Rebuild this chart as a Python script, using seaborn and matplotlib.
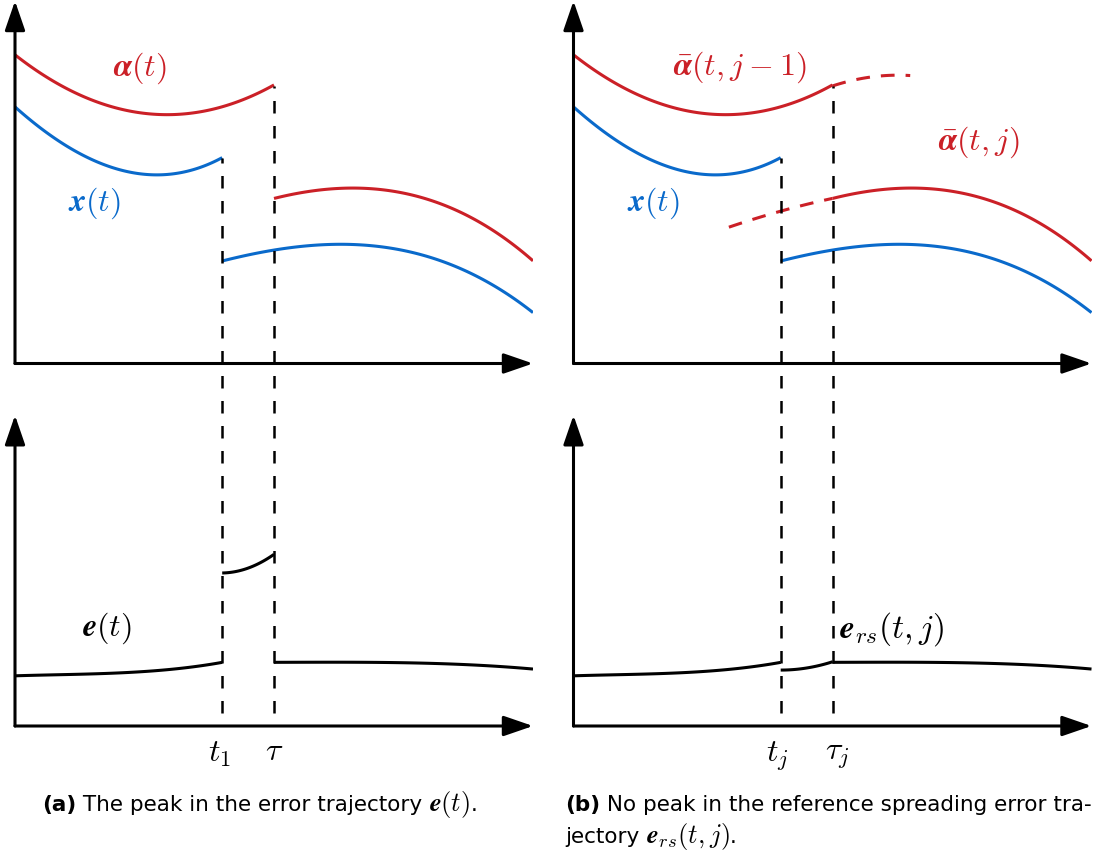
import matplotlib
matplotlib.use("Agg")
import matplotlib.pyplot as plt
from matplotlib.offsetbox import TextArea, HPacker, AnnotationBbox
import seaborn as sns

sns.set_theme(style="white")
plt.rcParams["font.family"] = ["DejaVu Sans"]
plt.rcParams["mathtext.fontset"] = "cm"
plt.rcParams["lines.solid_capstyle"] = "butt"
plt.rcParams["text.color"] = "black"

RED = "#CB2027"
BLUE = "#0A6ACB"

# event times: jump of the state (t1 / t_j) and reference switch (tau / tau_j)
t_jump = 4.0
t_switch = 5.0

# state trajectory x(t), before and after the jump
x_pre_t = [0.0, 0.5, 1.0, 1.5, 2.0, 2.5, 3.0, 3.5, 4.0]
x_pre_v = [11.95, 11.55, 11.20, 10.93, 10.74, 10.65, 10.66, 10.77, 10.97]
x_post_t = [4.0, 4.5, 5.0, 5.5, 6.0, 6.5, 7.0, 7.5, 8.0, 8.5, 9.0, 9.5, 10.0]
x_post_v = [8.98, 9.10, 9.19, 9.25, 9.29, 9.30, 9.27, 9.19, 9.06, 8.87, 8.63, 8.34, 7.99]

# reference trajectory alpha(t), before and after the switch
a_pre_t = [0.0, 0.5, 1.0, 1.5, 2.0, 2.5, 3.0, 3.5, 4.0, 4.5, 5.0]
a_pre_v = [12.94, 12.62, 12.33, 12.09, 11.91, 11.80, 11.79, 11.86, 11.98, 12.15, 12.36]
a_post_t = [5.0, 5.5, 6.0, 6.5, 7.0, 7.5, 8.0, 8.5, 9.0, 9.5, 10.0]
a_post_v = [10.19, 10.29, 10.36, 10.39, 10.37, 10.29, 10.16, 9.96, 9.71, 9.39, 8.98]

# extended references used by reference spreading
a_prev_ext_t = [5.0, 5.5, 6.0, 6.5]
a_prev_ext_v = [12.36, 12.49, 12.56, 12.56]
a_next_ext_t = [3.0, 3.5, 4.0, 4.5, 5.0]
a_next_ext_v = [9.63, 9.80, 9.94, 10.07, 10.19]

# tracking error
e_pre_t = [0.0, 1.0, 2.0, 3.0, 3.5, 4.0]
e_pre_v = [0.97, 0.99, 1.03, 1.09, 1.15, 1.23]
e_mid_t = [4.0, 4.25, 4.5, 4.75, 5.0]
e_peak_v = [2.95, 2.99, 3.05, 3.15, 3.32]
e_rs_mid_v = [1.08, 1.09, 1.12, 1.17, 1.24]
e_post_t = [5.0, 6.0, 7.0, 8.0, 9.0, 10.0]
e_post_v = [1.23, 1.23, 1.23, 1.21, 1.17, 1.10]

# panel frame: top plot axis at y=7, bottom plot axis at y=0
TOP_BASE, TOP_HEAD = 7.0, 14.0
BOT_BASE, BOT_HEAD = 0.0, 6.0
DASH_FLOOR = 0.25

W, H = 1095, 854
fig = plt.figure(figsize=(W / 100, H / 100), dpi=100)

LW = 2.2
MATH = 23
CAP = 15.5
CAP_MATH = 19
ARROW = dict(arrowstyle="-|>,head_length=1.8,head_width=0.62", lw=LW,
             color="black", shrinkA=0, shrinkB=0, mutation_scale=10)


def draw_axes(ax):
    for base, head in [(TOP_BASE, TOP_HEAD), (BOT_BASE, BOT_HEAD)]:
        ax.annotate("", xy=(0, head), xytext=(0, base), arrowprops=ARROW,
                    annotation_clip=False)
        ax.annotate("", xy=(10, base), xytext=(0, base), arrowprops=ARROW,
                    annotation_clip=False)


def curve(ax, t, v, color, dashed=False, order=3):
    # smooth polynomial trend through the sampled trajectory values
    line_kws = dict(lw=LW, zorder=2)
    if dashed:
        line_kws["linestyle"] = (0, (4.5, 3.6))
    else:
        line_kws["solid_capstyle"] = "butt"
    sns.regplot(x=t, y=v, ax=ax, order=order, ci=None, scatter=False,
                truncate=True, color=color, line_kws=line_kws)


def make_column(left_px):
    ax = fig.add_axes([left_px / W, (H - 727) / H, 518 / W, 725 / H])
    curve(ax, x_pre_t, x_pre_v, BLUE)
    curve(ax, x_post_t, x_post_v, BLUE)
    curve(ax, a_pre_t, a_pre_v, RED)
    curve(ax, a_post_t, a_post_v, RED)
    curve(ax, e_pre_t, e_pre_v, "black")
    curve(ax, e_post_t, e_post_v, "black")
    ax.vlines([t_jump, t_switch], DASH_FLOOR, [x_pre_v[-1], a_pre_v[-1]],
              colors="black", lw=1.8, linestyles=[(0, (5, 5))], zorder=3)
    ax.text(1.54, 10.12, r"$\boldsymbol{x}(t)$", color=BLUE, fontsize=MATH,
            ha="center", va="center")
    return ax


def finish(ax):
    ax.set_xlim(0, 10)
    ax.set_ylim(0, 14)
    ax.axis("off")
    draw_axes(ax)


# (a) classical tracking
ax_a = make_column(15)
curve(ax_a, e_mid_t, e_peak_v, "black", order=2)
ax_a.text(2.41, 12.72, r"$\boldsymbol{\alpha}(t)$", color=RED, fontsize=MATH,
          ha="center", va="center")
ax_a.text(1.78, 1.91, r"$\boldsymbol{e}(t)$", color="black", fontsize=MATH,
          ha="center", va="center")
ax_a.text(3.94, -0.52, r"$t_1$", fontsize=MATH, ha="center", va="center")
ax_a.text(5.0, -0.48, r"$\tau$", fontsize=MATH, ha="center", va="center")
finish(ax_a)

# (b) reference spreading
ax_b = make_column(573.5)
curve(ax_b, e_mid_t, e_rs_mid_v, "black", order=2)
curve(ax_b, a_prev_ext_t, a_prev_ext_v, RED, dashed=True, order=2)
curve(ax_b, a_next_ext_t, a_next_ext_v, RED, dashed=True, order=2)
ax_b.text(3.2, 12.74, r"$\bar{\boldsymbol{\alpha}}(t,j-1)$", color=RED,
          fontsize=MATH, ha="center", va="center")
ax_b.text(7.83, 11.29, r"$\bar{\boldsymbol{\alpha}}(t,j)$", color=RED,
          fontsize=MATH, ha="center", va="center")
ax_b.text(5.13, 1.9, r"$\boldsymbol{e}_{rs}(t,j)$", color="black",
          fontsize=MATH + 1, ha="left", va="center")
ax_b.text(3.93, -0.56, r"$t_j$", fontsize=MATH, ha="center", va="center")
ax_b.text(5.1, -0.56, r"$\tau_j$", fontsize=MATH, ha="center", va="center")
finish(ax_b)


def caption_line(x_px, y_px, parts):
    areas = []
    for text, kind in parts:
        props = dict(fontsize=CAP, color="black")
        if kind == "bold":
            props["weight"] = "bold"
        elif kind == "math":
            props["fontsize"] = CAP_MATH
        areas.append(TextArea(text, textprops=props))
    row = HPacker(children=areas, align="baseline", pad=0, sep=0)
    fig.add_artist(AnnotationBbox(row, (x_px / W, 1 - y_px / H),
                                  xycoords="figure fraction",
                                  box_alignment=(0, 0.5), frameon=False,
                                  pad=0))


caption_line(42, 805, [("(a)", "bold"),
                       (" The peak in the error trajectory ", "text"),
                       (r"$\boldsymbol{e}(t)$", "math"), (".", "text")])
caption_line(565, 805, [("(b)", "bold"),
                        (" No peak in the reference spreading error tra-",
                         "text")])
caption_line(565, 837, [("jectory ", "text"),
                        (r"$\boldsymbol{e}_{rs}(t,j)$", "math"),
                        (".", "text")])

fig.savefig("out.png", dpi=100)
